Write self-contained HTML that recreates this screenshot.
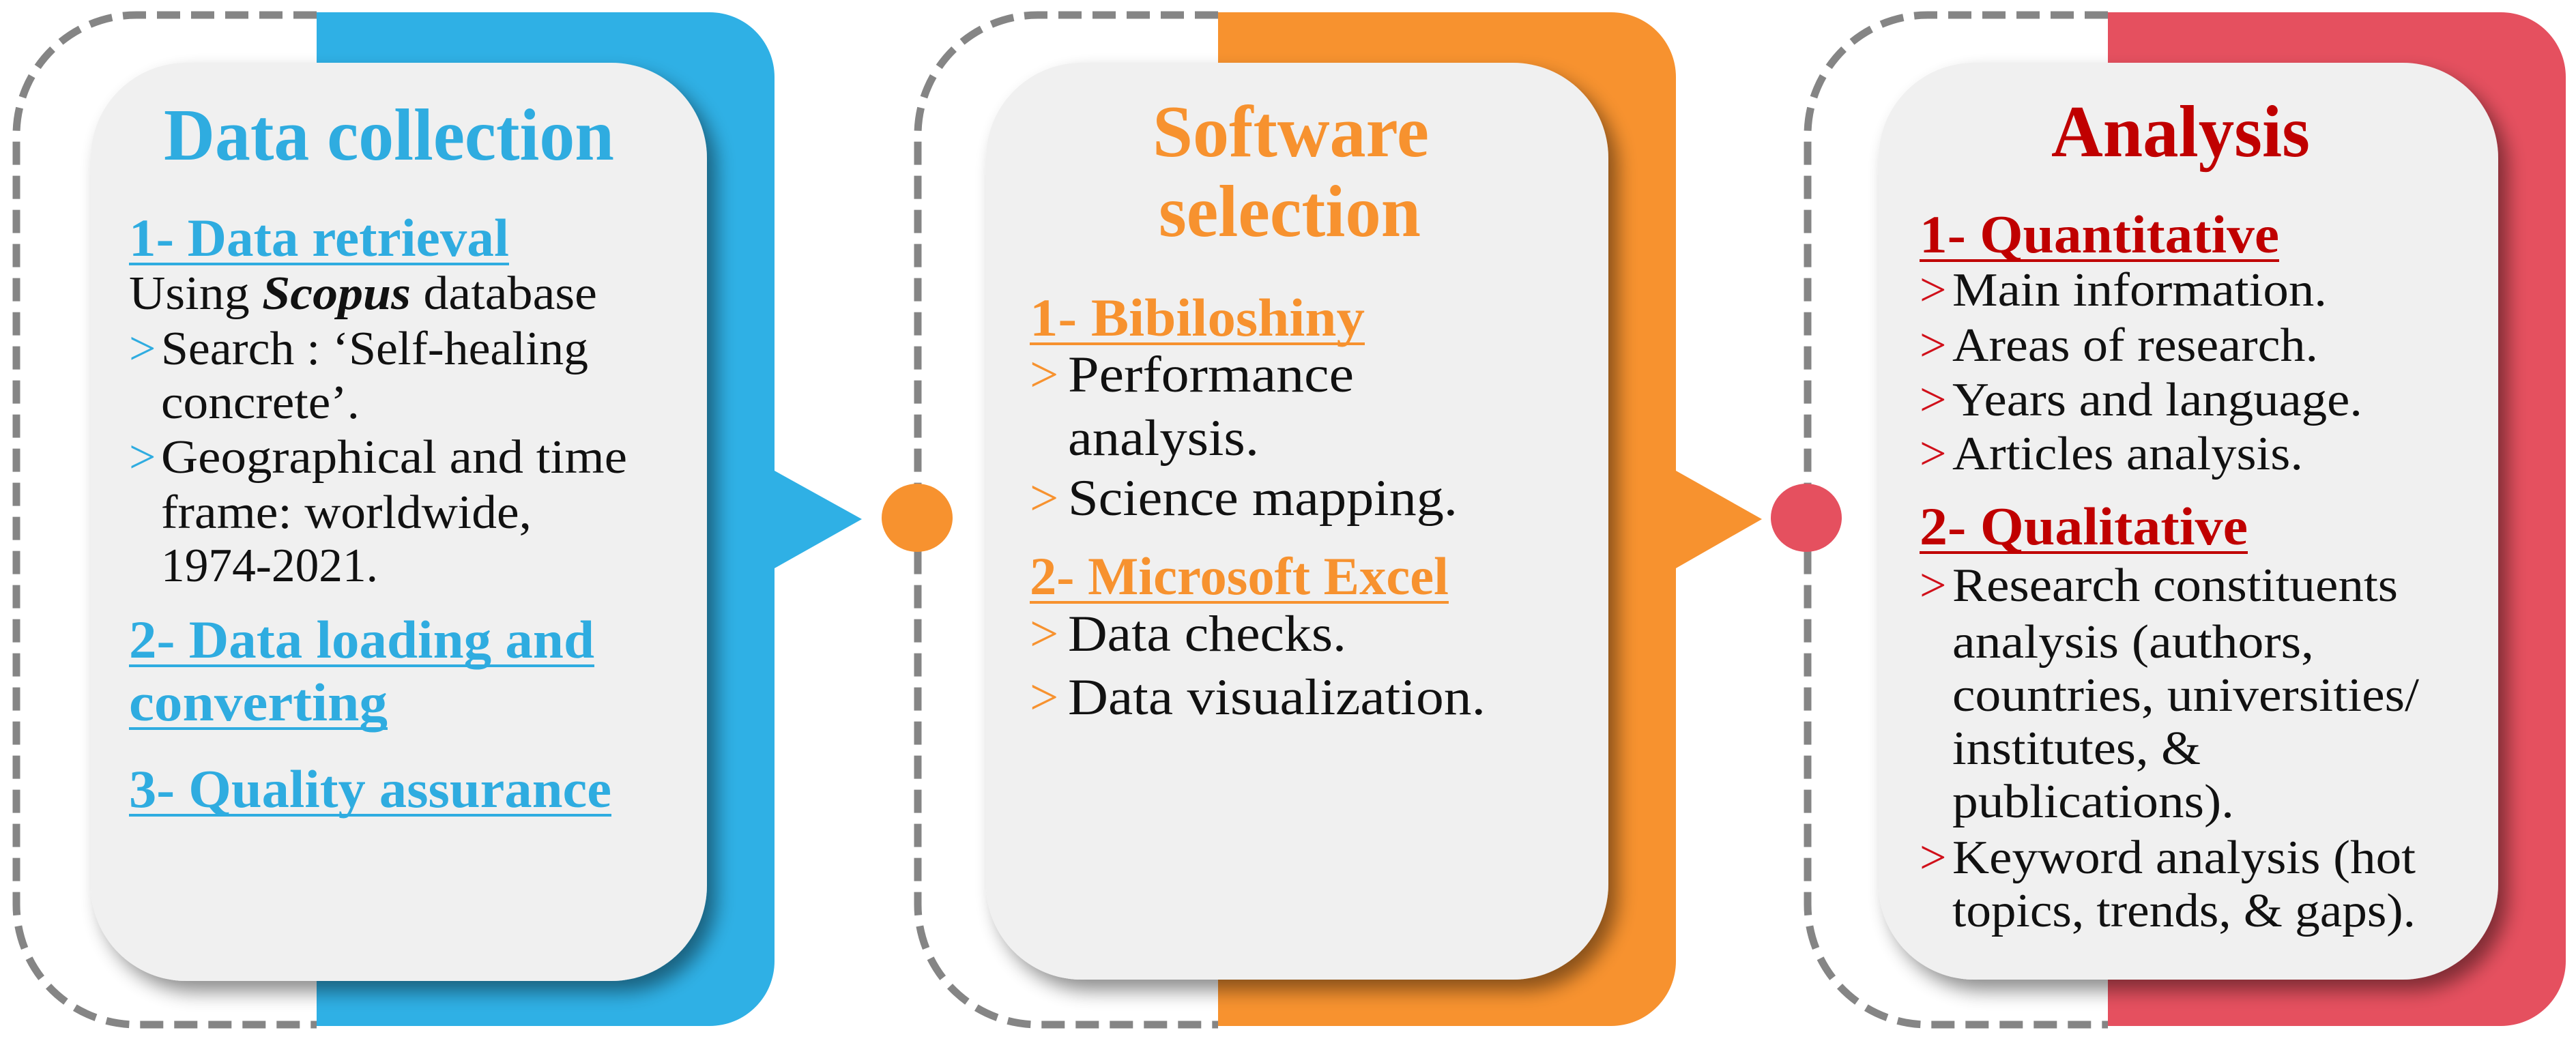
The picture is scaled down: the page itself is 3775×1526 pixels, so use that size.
<!DOCTYPE html>
<html><head><meta charset="utf-8"><style>
html,body{margin:0;padding:0;background:#fff;}
svg{display:block;}
text{font-family:"Liberation Serif",serif;}
.t{font-weight:bold;font-size:108px;}
.h{font-weight:bold;font-size:78px;}
.b{font-size:70px;fill:#111;}
.b2{font-size:75px;fill:#111;}
</style></head><body>
<svg width="3775" height="1526" viewBox="0 0 3775 1526" xmlns="http://www.w3.org/2000/svg">
<defs>
<filter id="sh" x="-10%" y="-10%" width="130%" height="130%">
<feGaussianBlur in="SourceAlpha" stdDeviation="14"/>
<feOffset dx="14" dy="16" result="o"/>
<feComponentTransfer><feFuncA type="linear" slope="0.45"/></feComponentTransfer>
<feMerge><feMergeNode/><feMergeNode in="SourceGraphic"/></feMerge>
</filter>
</defs>
<g fill="none" stroke="#858585" stroke-width="11" stroke-dasharray="34 16">
<path d="M464 22 H200 A176 176 0 0 0 24 198 V1326 A176 176 0 0 0 200 1502 H464"/>
<path d="M1785 22 H1521 A176 176 0 0 0 1345 198 V1326 A176 176 0 0 0 1521 1502 H1785"/>
<path d="M3089 22 H2825 A176 176 0 0 0 2649 198 V1326 A176 176 0 0 0 2825 1502 H3089"/>
</g>
<path d="M464 18 H1040 A95 95 0 0 1 1135 113 V690 L1263 761 L1135 833 V1409 A95 95 0 0 1 1040 1504 H464 Z" fill="#2FB0E5"/>
<path d="M1785 18 H2361 A95 95 0 0 1 2456 113 V690 L2582 761 L2456 833 V1409 A95 95 0 0 1 2361 1504 H1785 Z" fill="#F7922F"/>
<path d="M3089 18 H3665 A95 95 0 0 1 3760 113 V1409 A95 95 0 0 1 3665 1504 H3089 Z" fill="#E5505F"/>
<ellipse cx="1344" cy="759" rx="52" ry="50" fill="#F7922F"/>
<ellipse cx="2647" cy="759" rx="52" ry="50" fill="#E5505F"/>
<g filter="url(#sh)" fill="#F0F0F0">
<rect x="133" y="92" width="903" height="1346" rx="140" ry="140"/>
<rect x="1445" y="92" width="912" height="1344" rx="140" ry="140"/>
<rect x="2753" y="92" width="908" height="1344" rx="140" ry="140"/>
</g>
<!-- Panel 1 -->
<g fill="#2FACE0">
<text class="t" x="240" y="234" textLength="660" lengthAdjust="spacingAndGlyphs">Data collection</text>
<text class="h" x="189" y="375" textLength="557" lengthAdjust="spacingAndGlyphs">1- Data retrieval</text>
<text class="h" x="189" y="964" textLength="682" lengthAdjust="spacingAndGlyphs">2- Data loading and</text>
<text class="h" x="189" y="1056" textLength="379" lengthAdjust="spacingAndGlyphs">converting</text>
<text class="h" x="189" y="1183" textLength="707" lengthAdjust="spacingAndGlyphs">3- Quality assurance</text>
<text class="b" x="189" y="534" style="fill:#2FACE0">&gt;</text>
<text class="b" x="189" y="693" style="fill:#2FACE0">&gt;</text>
<rect x="189" y="385" width="557" height="4"/>
<rect x="189" y="974" width="682" height="4"/>
<rect x="189" y="1066" width="379" height="4"/>
<rect x="189" y="1193" width="707" height="4"/>
</g>
<text class="b" x="189" y="453" textLength="686" lengthAdjust="spacingAndGlyphs">Using <tspan font-weight="bold" font-style="italic">Scopus</tspan> database</text>
<text class="b" x="236" y="534" textLength="626" lengthAdjust="spacingAndGlyphs">Search : ‘Self-healing</text>
<text class="b" x="236" y="613" textLength="291" lengthAdjust="spacingAndGlyphs">concrete’.</text>
<text class="b" x="236" y="693" textLength="683" lengthAdjust="spacingAndGlyphs">Geographical and time</text>
<text class="b" x="236" y="774" textLength="543" lengthAdjust="spacingAndGlyphs">frame: worldwide,</text>
<text class="b" x="236" y="852" textLength="318" lengthAdjust="spacingAndGlyphs">1974-2021.</text>
<!-- Panel 2 -->
<g fill="#F7922F">
<text class="t" x="1689" y="229" textLength="405" lengthAdjust="spacingAndGlyphs">Software</text>
<text class="t" x="1698" y="346" textLength="384" lengthAdjust="spacingAndGlyphs">selection</text>
<text class="h" x="1509" y="492" textLength="491" lengthAdjust="spacingAndGlyphs">1- Bibiloshiny</text>
<text class="h" x="1509" y="871" textLength="614" lengthAdjust="spacingAndGlyphs">2- Microsoft Excel</text>
<rect x="1509" y="502" width="491" height="4"/>
<rect x="1509" y="881" width="614" height="4"/>
<text class="b2" x="1509" y="574" style="fill:#F7922F">&gt;</text>
<text class="b2" x="1509" y="755" style="fill:#F7922F">&gt;</text>
<text class="b2" x="1509" y="954" style="fill:#F7922F">&gt;</text>
<text class="b2" x="1509" y="1047" style="fill:#F7922F">&gt;</text>
</g>
<text class="b2" x="1565" y="574" textLength="419" lengthAdjust="spacingAndGlyphs">Performance</text>
<text class="b2" x="1565" y="667" textLength="280" lengthAdjust="spacingAndGlyphs">analysis.</text>
<text class="b2" x="1565" y="755" textLength="571" lengthAdjust="spacingAndGlyphs">Science mapping.</text>
<text class="b2" x="1565" y="954" textLength="408" lengthAdjust="spacingAndGlyphs">Data checks.</text>
<text class="b2" x="1565" y="1047" textLength="612" lengthAdjust="spacingAndGlyphs">Data visualization.</text>
<!-- Panel 3 -->
<g fill="#C00000">
<text class="t" x="3006" y="229" textLength="379" lengthAdjust="spacingAndGlyphs">Analysis</text>
<text class="h" x="2813" y="370" textLength="527" lengthAdjust="spacingAndGlyphs">1- Quantitative</text>
<text class="h" x="2813" y="798" textLength="481" lengthAdjust="spacingAndGlyphs">2- Qualitative</text>
<rect x="2813" y="380" width="527" height="4"/>
<rect x="2813" y="808" width="481" height="4"/>
</g>
<g>
<text class="b" x="2813" y="448" style="fill:#D0101A">&gt;</text>
<text class="b" x="2813" y="529" style="fill:#D0101A">&gt;</text>
<text class="b" x="2813" y="609" style="fill:#D0101A">&gt;</text>
<text class="b" x="2813" y="688" style="fill:#D0101A">&gt;</text>
<text class="b" x="2813" y="881" style="fill:#D0101A">&gt;</text>
<text class="b" x="2813" y="1280" style="fill:#D0101A">&gt;</text>
</g>
<text class="b" x="2861" y="448" textLength="549" lengthAdjust="spacingAndGlyphs">Main information.</text>
<text class="b" x="2861" y="529" textLength="536" lengthAdjust="spacingAndGlyphs">Areas of research.</text>
<text class="b" x="2861" y="609" textLength="601" lengthAdjust="spacingAndGlyphs">Years and language.</text>
<text class="b" x="2861" y="688" textLength="514" lengthAdjust="spacingAndGlyphs">Articles analysis.</text>
<text class="b" x="2861" y="881" textLength="653" lengthAdjust="spacingAndGlyphs">Research constituents</text>
<text class="b" x="2861" y="964" textLength="530" lengthAdjust="spacingAndGlyphs">analysis (authors,</text>
<text class="b" x="2861" y="1042" textLength="684" lengthAdjust="spacingAndGlyphs">countries, universities/</text>
<text class="b" x="2861" y="1120" textLength="364" lengthAdjust="spacingAndGlyphs">institutes, &amp;</text>
<text class="b" x="2861" y="1198" textLength="413" lengthAdjust="spacingAndGlyphs">publications).</text>
<text class="b" x="2861" y="1280" textLength="679" lengthAdjust="spacingAndGlyphs">Keyword  analysis (hot</text>
<text class="b" x="2861" y="1358" textLength="679" lengthAdjust="spacingAndGlyphs">topics, trends, &amp; gaps).</text>
</svg>
</body></html>
